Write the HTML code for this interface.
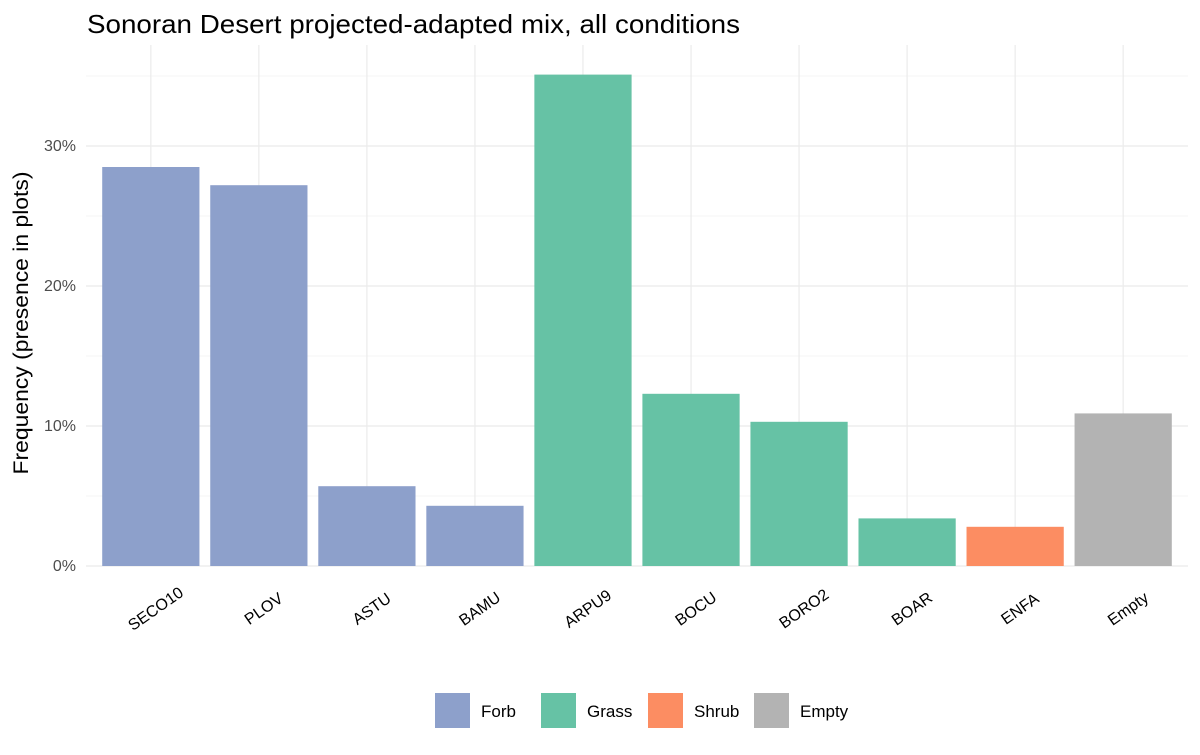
<!DOCTYPE html>
<html><head><meta charset="utf-8"><style>
body{margin:0;background:#fff;font-family:"Liberation Sans",Arial,sans-serif}
</style></head><body>
<svg id="chart" width="1200" height="750" xmlns="http://www.w3.org/2000/svg">
<text x="87" y="33" font-size="26" textLength="653" lengthAdjust="spacingAndGlyphs" fill="#000">Sonoran Desert projected-adapted mix, all conditions</text>
<text transform="translate(28,323) rotate(-90)" text-anchor="middle" font-size="21" textLength="303" lengthAdjust="spacingAndGlyphs" fill="#000">Frequency (presence in plots)</text>
<g id="grid"></g><g id="bars"></g><g id="xticks"></g><g id="yticks"></g><g id="legend"></g>
</svg>
<script>
const categories=["SECO10","PLOV","ASTU","BAMU","ARPU9","BOCU","BORO2","BOAR","ENFA","Empty"];
const values=[28.5,27.2,5.7,4.3,35.1,12.3,10.3,3.4,2.8,10.9];
const groups=["Forb","Forb","Forb","Forb","Grass","Grass","Grass","Grass","Shrub","Empty"];
const legendLabels=["Forb","Grass","Shrub","Empty"];
const yTicks=[0,10,20,30];
const yTickLabels=["0%","10%","20%","30%"];
const colors={Forb:"#8DA0CB",Grass:"#66C2A5",Shrub:"#FC8D62",Empty:"#B3B3B3"};
const NS="http://www.w3.org/2000/svg";
const L=86,R=1188,y0=566,pp=14;
const step=(R-L)/(categories.length+0.2);
const x=i=>L+(i+0.6)*step;
const y=v=>y0-v*pp;
function mk(t,a,p){const e=document.createElementNS(NS,t);for(const k in a)e.setAttribute(k,a[k]);document.getElementById(p).appendChild(e);return e;}
for(let v=0;v<=37;v+=5){
 const g=mk("line",{x1:L,x2:R,y1:y(v),y2:y(v),stroke:"#EBEBEB","stroke-width":v%10===0?1.2:0.6},"grid");
 
 
}
categories.forEach((c,i)=>{
 const g=mk("line",{x1:x(i),x2:x(i),y1:45,y2:y0,stroke:"#EBEBEB","stroke-width":1.2},"grid");
 
 
});
categories.forEach((c,i)=>{
 const w=step*0.9;
 const b=mk("rect",{x:x(i)-w/2,y:y(values[i]),width:w,height:values[i]*pp,fill:colors[groups[i]]},"bars");
 
 
 const t=mk("text",{transform:`translate(${x(i)+5},${y0+43}) rotate(-35)`,y:5,"text-anchor":"middle","font-size":16,fill:"#000"},"xticks");
 t.textContent=c;
 
 
});
yTicks.forEach((v,i)=>{
 const t=mk("text",{x:L-10,y:y(v)+5,"text-anchor":"end","font-size":16,fill:"#4D4D4D"},"yticks");
 t.textContent=yTickLabels[i];
 
 
});
const lx=[435,541,648,754];
legendLabels.forEach((g,i)=>{
 const r=mk("rect",{x:lx[i],y:693,width:35,height:35,fill:colors[g]},"legend");
 
 
 const t=mk("text",{x:lx[i]+46,y:717,"font-size":17,fill:"#000"},"legend");
 t.textContent=g;
 
 
});
</script>
</body></html>
